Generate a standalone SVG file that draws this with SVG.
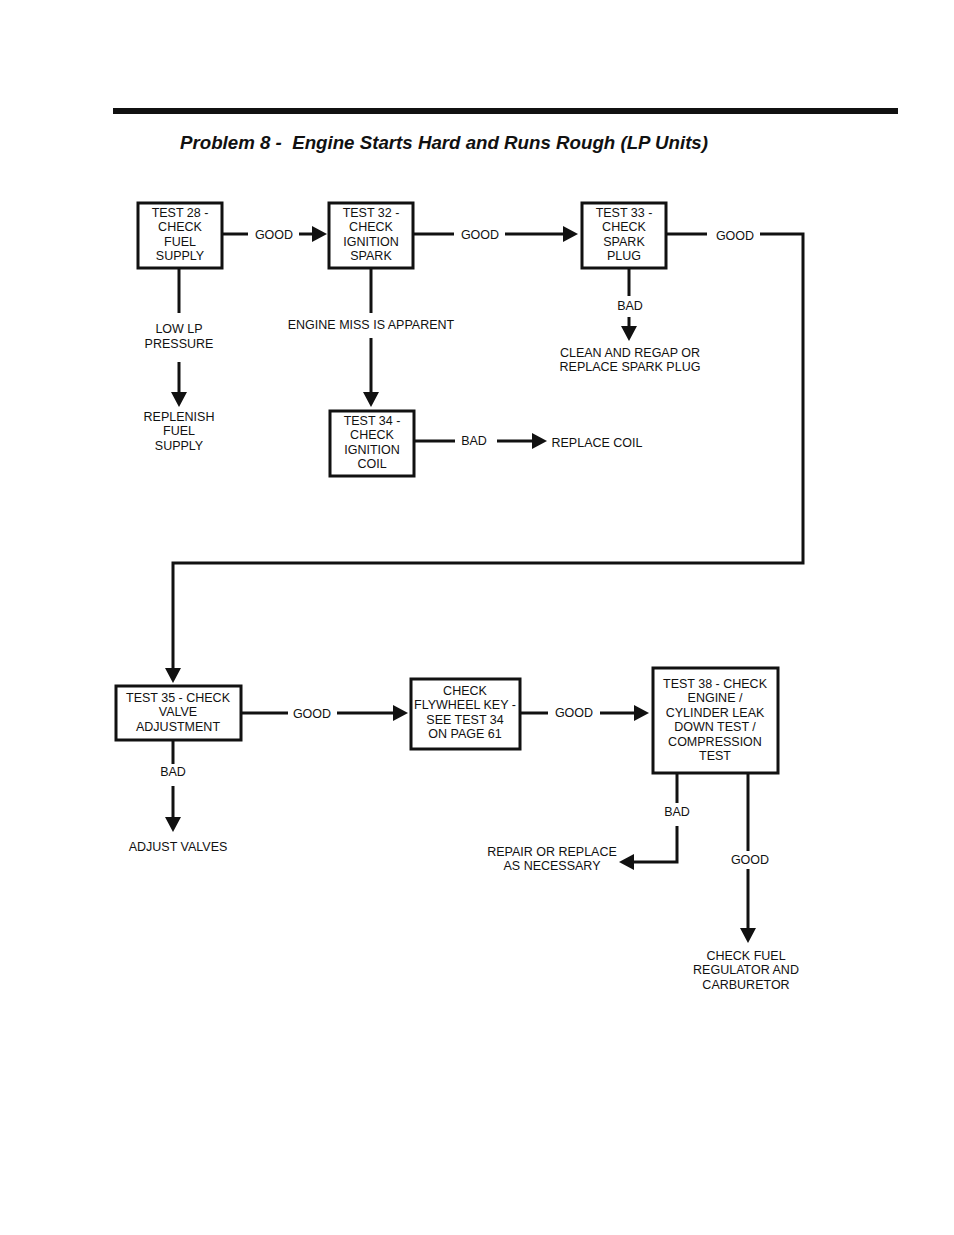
<svg xmlns="http://www.w3.org/2000/svg" width="954" height="1235" viewBox="0 0 954 1235">
<style>
text{font-family:"Liberation Sans",Arial,Helvetica,sans-serif;font-size:12.5px;fill:#111;text-anchor:middle}
.box{fill:#fff;stroke:#111;stroke-width:3}
.ln{fill:none;stroke:#111;stroke-width:3}
.title{font-weight:bold;font-style:italic;font-size:19px;text-anchor:start;white-space:pre}
</style>
<defs>
<marker id="ah" markerUnits="userSpaceOnUse" markerWidth="16" markerHeight="16" refX="2" refY="8" orient="auto">
<path d="M0,0 L15,8 L0,16 z" fill="#111"/>
</marker>
</defs>
<rect width="954" height="1235" fill="#fff"/>
<rect x="113" y="108" width="785" height="6" fill="#111"/>
<text class="title" x="180" y="149" textLength="528" lengthAdjust="spacingAndGlyphs" xml:space="preserve">Problem 8 -  Engine Starts Hard and Runs Rough (LP Units)</text>

<g id="connectors">
<line class="ln" x1="222" y1="234" x2="248" y2="234"/>
<line class="ln" x1="299" y1="234" x2="314" y2="234" marker-end="url(#ah)"/>
<line class="ln" x1="413" y1="234" x2="454" y2="234"/>
<line class="ln" x1="505" y1="234" x2="565" y2="234" marker-end="url(#ah)"/>
<line class="ln" x1="666" y1="234" x2="707" y2="234"/>
<polyline class="ln" points="760,234 803,234 803,563 173,563 173,670" marker-end="url(#ah)"/>
<line class="ln" x1="179" y1="268" x2="179" y2="313"/>
<line class="ln" x1="179" y1="362" x2="179" y2="394" marker-end="url(#ah)"/>
<line class="ln" x1="371" y1="268" x2="371" y2="313"/>
<line class="ln" x1="371" y1="338" x2="371" y2="394" marker-end="url(#ah)"/>
<line class="ln" x1="629" y1="268" x2="629" y2="296"/>
<line class="ln" x1="629" y1="317" x2="629" y2="328" marker-end="url(#ah)"/>
<line class="ln" x1="414" y1="441" x2="455" y2="441"/>
<line class="ln" x1="497" y1="441" x2="534" y2="441" marker-end="url(#ah)"/>
<line class="ln" x1="241" y1="713" x2="288" y2="713"/>
<line class="ln" x1="337" y1="713" x2="395" y2="713" marker-end="url(#ah)"/>
<line class="ln" x1="520" y1="713" x2="548" y2="713"/>
<line class="ln" x1="600" y1="713" x2="636" y2="713" marker-end="url(#ah)"/>
<line class="ln" x1="173" y1="740" x2="173" y2="764"/>
<line class="ln" x1="173" y1="786" x2="173" y2="819" marker-end="url(#ah)"/>
<line class="ln" x1="677" y1="773" x2="677" y2="803"/>
<polyline class="ln" points="677,826 677,862 632,862" marker-end="url(#ah)"/>
<line class="ln" x1="748" y1="773" x2="748" y2="851"/>
<line class="ln" x1="748" y1="869" x2="748" y2="930" marker-end="url(#ah)"/>
<text x="274" y="239">GOOD</text>
<text x="480" y="239">GOOD</text>
<text x="735" y="240">GOOD</text>
<text x="179" y="333">LOW LP</text>
<text x="179" y="348">PRESSURE</text>
<text x="371" y="329">ENGINE MISS IS APPARENT</text>
<text x="630" y="310">BAD</text>
<text x="474" y="445">BAD</text>
<text x="312" y="718">GOOD</text>
<text x="574" y="717">GOOD</text>
<text x="173" y="776">BAD</text>
<text x="677" y="816">BAD</text>
<text x="750" y="864">GOOD</text>
</g>

<g id="n28"><rect class="box" x="138" y="203" width="84" height="65"/>
<text x="180" y="217">TEST 28 -</text><text x="180" y="231">CHECK</text><text x="180" y="246">FUEL</text><text x="180" y="260">SUPPLY</text></g>
<g id="n32"><rect class="box" x="329" y="203" width="84" height="65"/>
<text x="371" y="217">TEST 32 -</text><text x="371" y="231">CHECK</text><text x="371" y="246">IGNITION</text><text x="371" y="260">SPARK</text></g>
<g id="n33"><rect class="box" x="582" y="203" width="84" height="65"/>
<text x="624" y="217">TEST 33 -</text><text x="624" y="231">CHECK</text><text x="624" y="246">SPARK</text><text x="624" y="260">PLUG</text></g>
<g id="n34"><rect class="box" x="330" y="411" width="84" height="65"/>
<text x="372" y="425">TEST 34 -</text><text x="372" y="439">CHECK</text><text x="372" y="454">IGNITION</text><text x="372" y="468">COIL</text></g>
<g id="replenish"><text x="179" y="421">REPLENISH</text><text x="179" y="435">FUEL</text><text x="179" y="450">SUPPLY</text></g>
<g id="clean"><text x="630" y="357">CLEAN AND REGAP OR</text><text x="630" y="371">REPLACE SPARK PLUG</text></g>
<g id="coil"><text x="597" y="447">REPLACE COIL</text></g>
<g id="n35"><rect class="box" x="116" y="686" width="125" height="54"/>
<text x="178" y="702">TEST 35 - CHECK</text><text x="178" y="716">VALVE</text><text x="178" y="731">ADJUSTMENT</text></g>
<g id="flywheel"><rect class="box" x="411" y="679" width="109" height="70"/>
<text x="465" y="695">CHECK</text><text x="465" y="709">FLYWHEEL KEY -</text><text x="465" y="724">SEE TEST 34</text><text x="465" y="738">ON PAGE 61</text></g>
<g id="n38"><rect class="box" x="653" y="668" width="125" height="105"/>
<text x="715" y="688">TEST 38 - CHECK</text><text x="715" y="702">ENGINE /</text><text x="715" y="717">CYLINDER LEAK</text><text x="715" y="731">DOWN TEST /</text><text x="715" y="746">COMPRESSION</text><text x="715" y="760">TEST</text></g>
<g id="adjust"><text x="178" y="851">ADJUST VALVES</text></g>
<g id="repair"><text x="552" y="856">REPAIR OR REPLACE</text><text x="552" y="870">AS NECESSARY</text></g>
<g id="checkfuel"><text x="746" y="960">CHECK FUEL</text><text x="746" y="974">REGULATOR AND</text><text x="746" y="989">CARBURETOR</text></g>
</svg>
